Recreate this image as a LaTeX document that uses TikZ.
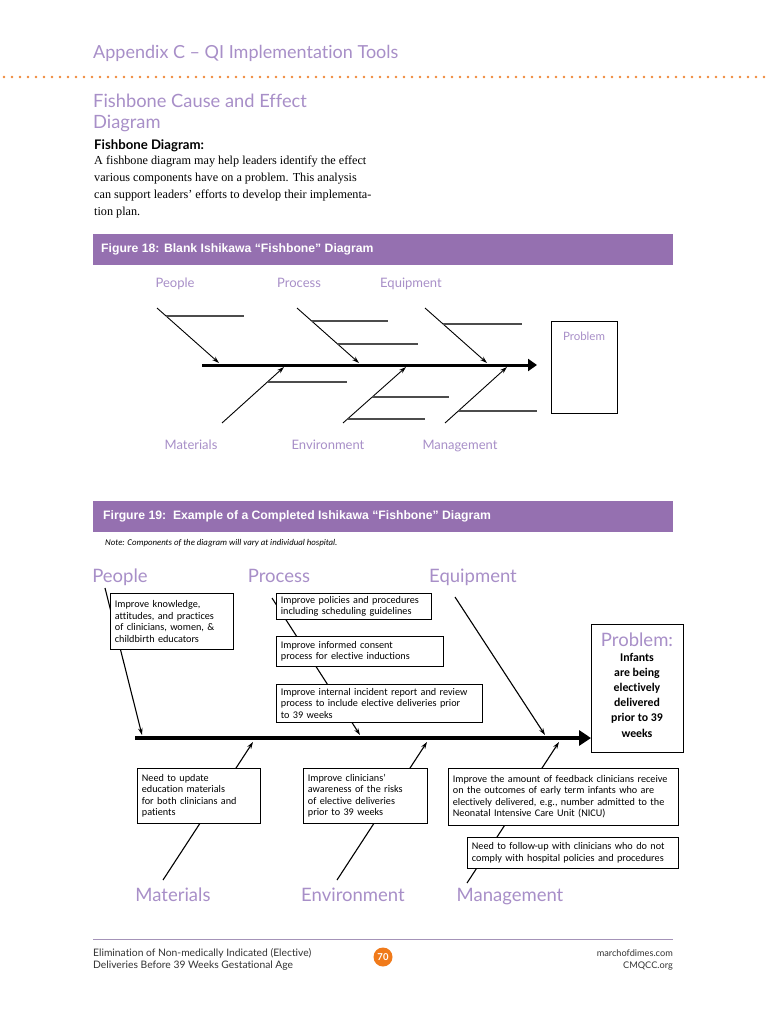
\documentclass[tikz,border=0pt]{standalone}
\usepackage{fontspec}
\setmainfont{Liberation Serif}
\newfontfamily\lato[Ligatures=NoCommon]{Lato}
\newfontfamily\carl[Ligatures=NoCommon]{Carlito}
\newfontfamily\arialish{Liberation Sans}
\usetikzlibrary{arrows.meta}
\definecolor{bannerpurple}{HTML}{9570B0}
\definecolor{lightpurple}{HTML}{A88FC8}
\definecolor{dotorange}{HTML}{F0883A}
\definecolor{circorange}{HTML}{F07A1A}
\definecolor{rulepurple}{HTML}{A493B8}
\begin{document}
\begin{tikzpicture}[x=1pt,y=-1pt,
  hdr/.style={font=\lato\fontsize{18}{20}\selectfont, text=lightpurple, inner sep=0, anchor=base west},
  cat18/.style={font=\lato\fontsize{13}{15}\selectfont, text=lightpurple, inner sep=0, anchor=base},
  cat19/.style={font=\lato\fontsize{18.5}{20}\selectfont, text=lightpurple, inner sep=0, anchor=base},
  banner/.style={fill=bannerpurple, minimum width=580pt, minimum height=31pt, anchor=north west, inner sep=0},
  bannertext/.style={font=\arialish\bfseries\fontsize{12.2}{14}\selectfont, text=white, anchor=west, inner sep=0},
  bone/.style={line width=0.9pt, -{Stealth[length=7pt,width=4.5pt]}},
  twig/.style={line width=1.1pt, draw=black!70},
  spine/.style={line width=3pt, -{Triangle[length=9pt,width=12pt]}},
  cbox/.style={draw, line width=0.8pt, fill=white, anchor=north west, inner xsep=4.5pt, inner ysep=2pt, align=left, font=\carl\fontsize{10.2}{11.5}\selectfont},
  body/.style={font=\fontsize{12.2}{14}\selectfont, inner sep=0, anchor=base west},
  foot/.style={font=\lato\fontsize{8.8}{10}\selectfont, inner sep=0, text=black!80},
]
\fill[white] (0,0) rectangle (768,1024);
\useasboundingbox (0,0) rectangle (768,1024);

% ---------- header ----------
\node[hdr] (hdr) at (93,59) {Appendix C – QI Implementation Tools};
\foreach \i in {0,...,95} {\fill[dotorange] ({\i*8+4},77) circle (1.3pt);}
\node[hdr, font=\lato\fontsize{18.3}{20}\selectfont] (t1) at (93,108) {Fishbone Cause and Effect};
\node[hdr, font=\lato\fontsize{18.3}{20}\selectfont] (t2) at (93,129) {Diagram};
\node[inner sep=0, anchor=base west, font=\lato\bfseries\fontsize{13.2}{15}\selectfont] (sub) at (94,150) {Fishbone Diagram:};
\node[body] (b1) at (94,165) {A fishbone diagram may help leaders identify the effect};
\node[body] (b2) at (94,182) {various components have on a problem. This analysis};
\node[body] (b3) at (94,199) {can support leaders’ efforts to develop their implementa-};
\node[body] (b4) at (94,216) {tion plan.};

% ---------- figure 18 ----------
\node[banner] (ban18) at (93,234) {};
\node[bannertext] (ban18t) at (101,249) {Figure 18: Blank Ishikawa “Fishbone” Diagram};

\node[cat18] (pe18) at (175,287) {People};
\node[cat18] (pr18) at (299,287) {Process};
\node[cat18] (eq18) at (411,287) {Equipment};
\node[cat18] (ma18) at (191,449) {Materials};
\node[cat18] (en18) at (328,449) {Environment};
\node[cat18] (mg18) at (460,449) {Management};

\node[draw, line width=0.8pt, minimum width=66pt, minimum height=92pt, anchor=north west, inner sep=0] (prob18) at (551,321) {};
\node[cat18, font=\lato\fontsize{11.5}{13}\selectfont] (prob18t) at (584,340) {Problem};

\coordinate (s18a) at (202,365);
\coordinate (s18b) at (537,365);
\draw[spine] (s18a) -- (s18b);

\coordinate (pe18s) at (157,308); \coordinate (pe18e) at (219,363);
\coordinate (pr18s) at (297,308); \coordinate (pr18e) at (359,363);
\coordinate (eq18s) at (425,308); \coordinate (eq18e) at (487,363);
\coordinate (ma18s) at (222,423); \coordinate (ma18e) at (284,367);
\coordinate (en18s) at (343,423); \coordinate (en18e) at (406,367);
\coordinate (mg18s) at (445,423); \coordinate (mg18e) at (507,367);
\draw[bone] (pe18s) -- (pe18e);
\draw[bone] (pr18s) -- (pr18e);
\draw[bone] (eq18s) -- (eq18e);
\draw[bone] (ma18s) -- (ma18e);
\draw[bone] (en18s) -- (en18e);
\draw[bone] (mg18s) -- (mg18e);

\coordinate (w1a) at (166,316); \coordinate (w1b) at (244,316);
\coordinate (w2a) at (312,321); \coordinate (w2b) at (388,321);
\coordinate (w3a) at (338,344); \coordinate (w3b) at (418,344);
\coordinate (w4a) at (443,324); \coordinate (w4b) at (522,324);
\coordinate (w5a) at (268,382); \coordinate (w5b) at (347,382);
\coordinate (w6a) at (372,397); \coordinate (w6b) at (449,397);
\coordinate (w7a) at (347,419); \coordinate (w7b) at (425,419);
\coordinate (w8a) at (458,411); \coordinate (w8b) at (537,411);
\foreach \w in {1,...,8} {\draw[twig] (w\w a) -- (w\w b);}

% ---------- figure 19 ----------
\node[banner] (ban19) at (93,501) {};
\node[bannertext] (ban19t) at (103,516) {Firgure 19:\ \ Example of a Completed Ishikawa “Fishbone” Diagram};
\node[inner sep=0, anchor=west, font=\carl\itshape\fontsize{8.8}{10}\selectfont] (note) at (105,543) {Note: Components of the diagram will vary at individual hospital.};

\node[cat19] (pe19) at (120,582) {People};
\node[cat19] (pr19) at (279,582) {Process};
\node[cat19] (eq19) at (473,582) {Equipment};
\node[cat19] (ma19) at (173,901) {Materials};
\node[cat19] (en19) at (353,901) {Environment};
\node[cat19] (mg19) at (510,901) {Management};

\coordinate (s19a) at (135,738);
\coordinate (s19b) at (591,738);
\draw[line width=4pt, -{Triangle[length=12pt,width=15pt]}] (s19a) -- (s19b);

\coordinate (pe19s) at (105,588); \coordinate (pe19e) at (142,735);
\coordinate (pr19s) at (272,598); \coordinate (pr19e) at (360,735);
\coordinate (eq19s) at (455,597); \coordinate (eq19e) at (545,735);
\coordinate (ma19s) at (163,880); \coordinate (ma19e) at (253,742);
\coordinate (en19s) at (337,880); \coordinate (en19e) at (427,742);
\coordinate (mg19s) at (467,883); \coordinate (mg19e) at (559,742);
\foreach \c in {pe19,pr19,eq19,ma19,en19,mg19} {\draw[bone, line width=1.1pt] (\c s) -- (\c e);}

\node[cbox, text width=114pt, minimum height=56pt] (bpe) at (110,593) {Improve knowledge,\\attitudes, and practices\\of clinicians, women, \&\\childbirth educators};
\node[cbox, text width=146pt, minimum height=26pt] (bpr1) at (276,593) {Improve policies and procedures\\including scheduling guidelines};
\node[cbox, text width=158pt, minimum height=30pt] (bpr2) at (276,636) {Improve informed consent\\process for elective inductions};
\node[cbox, text width=197pt, minimum height=38pt] (bpr3) at (276,684) {Improve internal incident report and review\\process to include elective deliveries prior\\to 39 weeks};
\node[cbox, text width=114pt, minimum height=55pt] (bma) at (137,768) {Need to update\\education materials\\for both clinicians and\\patients};
\node[cbox, text width=115pt, minimum height=55pt] (ben) at (303,768) {Improve clinicians’\\awareness of the risks\\of elective deliveries\\prior to 39 weeks};
\node[cbox, text width=221pt, minimum height=57pt] (bmg1) at (448,768) {Improve the amount of feedback clinicians receive\\on the outcomes of early term infants who are\\electively delivered, e.g., number admitted to the\\Neonatal Intensive Care Unit (NICU)};
\node[cbox, text width=202pt, minimum height=31pt] (bmg2) at (467,837) {Need to follow-up with clinicians who do not\\comply with hospital policies and procedures};

\node[draw, line width=0.8pt, fill=white, minimum width=92pt, minimum height=128pt, anchor=north west, inner sep=0] (prob19) at (591,624) {};
\node[cat19] (prob19h) at (637,646) {Problem:};
\node[inner sep=0, align=center, font=\carl\bfseries\fontsize{11.8}{15.2}\selectfont] (prob19t) at (637,695) {Infants\\are being\\electively\\delivered\\prior to 39\\weeks};

% ---------- footer ----------
\coordinate (fl) at (93,939); \coordinate (fr) at (673,939);
\draw[rulepurple, line width=0.8pt] (fl) -- (fr);
\node[foot, anchor=west, font=\lato\fontsize{10.3}{12}\selectfont] (f1) at (93,953) {Elimination of Non-medically Indicated (Elective)};
\node[foot, anchor=west, font=\lato\fontsize{10.3}{12}\selectfont] (f2) at (93,966) {Deliveries Before 39 Weeks Gestational Age};
\node[circle, fill=circorange, minimum size=19pt, inner sep=0, text=white, font=\lato\bfseries\fontsize{9.5}{10}\selectfont] (pg) at (383,957) {70};
\node[foot, anchor=east, font=\lato\fontsize{9.2}{11}\selectfont] (f3) at (673,953) {marchofdimes.com};
\node[foot, anchor=east, font=\lato\fontsize{9.2}{11}\selectfont] (f4) at (673,966) {CMQCC.org};
\end{tikzpicture}
\end{document}
